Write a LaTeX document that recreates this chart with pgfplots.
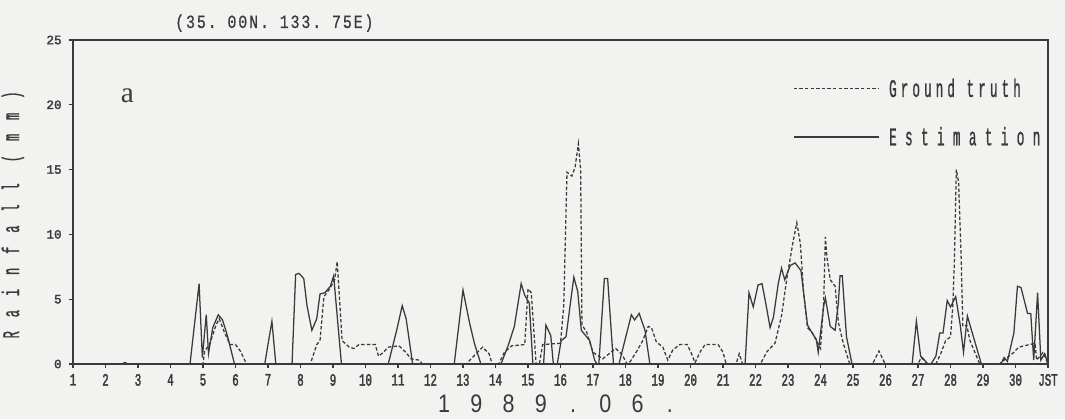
\documentclass[border=0pt]{standalone}
\usepackage{pgfplots}
\pgfplotsset{compat=1.18}
\usepackage{fontspec}
\setmainfont{Liberation Sans}
\usetikzlibrary{backgrounds}
\newfontfamily\xtickfont[FakeStretch=0.62,FakeBold=2]{Liberation Mono}
\newfontfamily\ytickfont[FakeBold=2.2]{Liberation Mono}
\newfontfamily\titlefont[FakeStretch=0.8,LetterSpace=10,FakeBold=0.6]{Liberation Mono}
\newfontfamily\legAfont[FakeStretch=0.5,LetterSpace=16,FakeBold=0.8]{Liberation Mono}
\newfontfamily\legBfont[FakeStretch=0.5,LetterSpace=33,FakeBold=0.8]{Liberation Mono}
\newfontfamily\ylfont[FakeStretch=0.5,LetterSpace=58,FakeBold=1]{Liberation Mono}
\newfontfamily\xlfont[FakeStretch=0.85]{Liberation Sans}
\newfontfamily\seriffont{Liberation Serif}
\definecolor{bg}{HTML}{F2F2F0}
\definecolor{ink}{HTML}{3A3A3A}

\pgfplotstableread{
x y
1 0
2.5 0
2.6 0.1
2.7 0
4.6 0
4.88 6.2
4.98 0.5
5.1 3.8
5.17 0.8
5.3 2.8
5.47 3.8
5.6 3.4
5.75 2.2
5.97 0
6.9 0
7.12 3.3
7.24 0
7.74 0
7.85 6.9
7.95 7.0
8.1 6.6
8.2 4.5
8.35 2.6
8.5 3.5
8.6 5.4
8.75 5.5
8.92 6.0
9.02 6.8
9.26 0
10.7 0
10.95 2.5
11.13 4.5
11.25 3.5
11.45 0
12.73 0
13.0 5.7
13.2 3.2
13.35 1.6
13.55 0
14.17 0
14.4 1.5
14.58 2.9
14.79 6.2
14.9 5.3
15.04 4.7
15.15 0
15.48 0
15.55 3.0
15.7 2.2
15.78 0
15.9 0
16.02 1.8
16.17 2.1
16.41 6.7
16.53 5.6
16.64 2.6
16.9 1.8
17.05 0.3
17.12 0
17.18 0
17.35 6.6
17.45 6.6
17.63 0
17.8 0
18.18 3.8
18.28 3.4
18.42 3.9
18.6 2.6
18.75 0
21.68 0
21.8 5.5
21.93 4.4
22.08 6.1
22.2 6.2
22.3 4.9
22.45 2.8
22.55 3.6
22.7 6.2
22.8 7.4
22.9 6.5
23.07 7.6
23.22 7.8
23.4 7.2
23.48 5.5
23.6 3.0
23.74 2.4
23.87 1.9
23.93 0.9
24.1 4.5
24.15 5.1
24.3 2.9
24.45 2.6
24.55 4.7
24.6 6.8
24.67 6.8
24.8 2.1
24.97 0
26.82 0
26.95 3.3
27.08 0.6
27.2 0.3
27.3 0
27.4 0
27.55 0.6
27.67 2.4
27.77 2.4
27.9 4.9
28.0 4.4
28.16 5.2
28.3 3.0
28.4 0.9
28.52 3.7
28.6 3.0
28.95 0
29.55 0
29.65 0.5
29.75 0.2
29.95 2.4
30.06 6.0
30.17 5.9
30.37 3.9
30.47 3.9
30.56 0.3
30.68 5.5
30.78 0.3
30.9 0.8
31 0
}\estimation

\pgfplotstableread{
x y
1 0
2.5 0
2.6 0.1
2.7 0
5.0 0
5.05 1.0
5.2 1.5
5.4 3.0
5.5 3.5
5.65 2.5
5.83 1.5
6.0 1.5
6.15 1.0
6.34 0
8.3 0
8.5 1.5
8.6 1.8
8.72 5.2
8.9 5.8
9.05 6.5
9.13 7.9
9.28 1.8
9.5 1.3
9.64 1.2
9.8 1.5
10.3 1.5
10.4 0.6
10.55 0.9
10.7 1.3
11.03 1.4
11.24 0.9
11.4 0.4
11.65 0.3
11.75 0
13.1 0
13.25 0.4
13.6 1.3
13.8 0.8
13.9 0
14.1 0
14.27 0.9
14.5 1.4
14.9 1.5
15.0 5.8
15.1 5.5
15.25 0
15.35 0
15.45 1.5
16.0 1.6
16.1 4.5
16.2 14.8
16.35 14.5
16.45 15.2
16.55 17.0
16.62 15.0
16.66 3.0
16.8 2.5
17.0 0.9
17.3 0.4
17.5 0.8
17.7 1.2
17.9 0.7
18.05 0
18.15 0.2
18.35 1.0
18.53 1.8
18.7 2.9
18.8 2.8
18.95 1.7
19.15 1.3
19.3 0.3
19.46 1.1
19.67 1.5
19.9 1.5
20.03 0.8
20.14 0.1
20.3 0.95
20.45 1.5
20.85 1.5
21.0 0.9
21.1 0
21.4 0
21.5 0.8
21.6 0
22.15 0
22.35 0.95
22.6 1.6
22.8 3.7
22.97 6.7
23.16 9.5
23.27 10.9
23.38 9.3
23.48 5.5
23.6 2.8
23.75 2.4
24.0 1.2
24.1 4.9
24.15 9.8
24.2 8.2
24.3 6.5
24.45 6.0
24.55 3.2
24.7 1.6
24.9 0
25.6 0
25.7 0.5
25.8 1.0
25.95 0.2
26.0 0
27.0 0
27.1 0.5
27.3 0
27.55 0
27.7 0.8
27.85 1.8
28.0 2.1
28.07 4.4
28.12 8.0
28.18 15.0
28.25 14.0
28.33 8.0
28.38 2.9
28.5 3.0
28.6 1.8
28.9 0
29.5 0
29.8 0.6
29.95 0.9
30.1 1.3
30.6 1.6
30.65 0.3
30.85 0.9
31 0
}\groundtruth

\begin{document}
\begin{tikzpicture}
\begin{axis}[
  name=ax,
  scale only axis,
  width=731.25pt, height=243pt,
  xmin=1, xmax=31, ymin=0, ymax=25,
  xtick={1,2,3,4,5,6,7,8,9,10,11,12,13,14,15,16,17,18,19,20,21,22,23,24,25,26,27,28,29,30,31},
  xticklabels={1,2,3,4,5,6,7,8,9,10,11,12,13,14,15,16,17,18,19,20,21,22,23,24,25,26,27,28,29,30,JST},
  ytick={0,5,10,15,20,25},
  tick pos=left,
  tick align=outside,
  major tick length=3pt,
  axis line style={ink, line width=0.9pt},
  every tick/.style={ink, line width=0.8pt},
  /pgf/number format/assume math mode=true,
  xticklabel style={font=\xtickfont\fontsize{13}{14}\selectfont, text=ink, yshift=-1pt},
  yticklabel style={font=\ytickfont\fontsize{9.5}{10}\selectfont, text=ink, xshift=-2pt},
  clip=false,
  legend style={at={(1.002,0.89)}, anchor=north east, draw=none, fill=none,
    inner sep=0pt, row sep=17pt, cells={anchor=west}, text=ink,
    nodes={inner xsep=7pt, inner ysep=2pt}},
  legend image code/.code={\draw[#1] (0pt,0pt) -- (64pt,0pt);},
]
\addplot[ink, line width=0.95pt, dash pattern=on 2.6pt off 1.6pt] table[x=x,y=y] {\groundtruth};
\addlegendentry{\legAfont\fontsize{19}{20}\selectfont Ground truth}
\addplot[ink, line width=0.95pt] table[x=x,y=y] {\estimation};
\addlegendentry{\legBfont\fontsize{19}{20}\selectfont Estimation}

\node[font=\seriffont\fontsize{22}{24}\selectfont, text=ink] at (axis cs:2.67,20.7) {a};
\node[anchor=west, font=\titlefont\fontsize{14}{15}\selectfont, text=ink] at (axis cs:4.0,26.3) {(35.\ 00N.\ 133.\ 75E)};
\node[rotate=90, font=\ylfont\fontsize{18}{19}\selectfont, text=ink] at (axis cs:-0.85,11.5) {Rainfall (mm)};
\node[font=\xlfont\fontsize{19}{20}\selectfont, text=ink, inner sep=0pt] at (axis cs:15.89,-3.08)
  {\makebox[24.2pt]{1}\makebox[24.2pt]{9}\makebox[24.2pt]{8}\makebox[24.2pt]{9}\makebox[24.2pt]{.}\makebox[24.2pt]{0}\makebox[24.2pt]{6}\makebox[24.2pt]{.}};
\end{axis}
\path (ax.south west) ++(-54.75pt,-41.25pt) coordinate (bl);
\path (ax.north east) ++(12.75pt,30pt) coordinate (tr);
\pgfresetboundingbox
\path[use as bounding box] (bl) rectangle (tr);
\begin{scope}[on background layer]
\fill[bg] (bl) rectangle (tr);
\end{scope}
\end{tikzpicture}
\end{document}
